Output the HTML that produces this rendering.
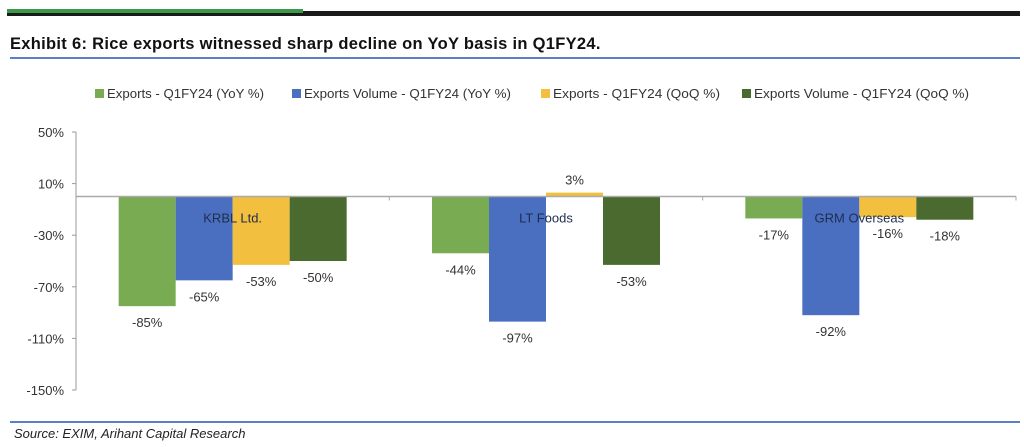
<!DOCTYPE html>
<html><head><meta charset="utf-8"><style>
body{margin:0;background:#fff;width:1024px;height:447px;overflow:hidden;font-family:"Liberation Sans",sans-serif;position:relative}
.abs{position:absolute}
</style></head><body>
<div class="abs" style="left:7px;top:11px;width:1013px;height:5px;background:#1a1a1a"></div>
<div class="abs" style="left:7px;top:9px;width:296px;height:4px;background:#3a9a4a"></div>
<div class="abs" style="left:10px;top:35px;font-size:16.5px;font-weight:bold;color:#111;letter-spacing:0.3px">Exhibit 6: Rice exports witnessed sharp decline on YoY basis in Q1FY24.</div>
<div class="abs" style="left:10px;top:57px;width:1010px;height:2px;background:#5a7fc8"></div>
<div class="abs" style="left:10px;top:421px;width:1010px;height:2px;background:#5a7fc8"></div>
<div class="abs" style="left:14px;top:426px;font-size:13px;font-style:italic;color:#222">Source: EXIM, Arihant Capital Research</div>
<svg class="abs" style="left:0;top:0" width="1024" height="447" id="chart"></svg>
<script>
const categories=["KRBL Ltd.","LT Foods","GRM Overseas"];
const seriesNames=["Exports - Q1FY24 (YoY %)","Exports Volume - Q1FY24 (YoY %)","Exports - Q1FY24 (QoQ %)","Exports Volume - Q1FY24 (QoQ %)"];
const exportsYoY=[-85,-44,-17];
const volumeYoY=[-65,-97,-92];
const exportsQoQ=[-53,3,-16];
const volumeQoQ=[-50,-53,-18];
const yTicks=[50,10,-30,-70,-110,-150];
const colors=["#78ab52","#4a6fc0","#f2bf3e","#4a6a30"];
const series=[exportsYoY,volumeYoY,exportsQoQ,volumeQoQ];
const svg=document.getElementById('chart');
const NS="http://www.w3.org/2000/svg";
const x0=76,x1=1016,yTop=132,yBot=390,vMax=50,vMin=-150;
const y=v=>yTop+(vMax-v)*(yBot-yTop)/(vMax-vMin);
const catW=(x1-x0)/categories.length, barW=57;
function mk(t,a){const e=document.createElementNS(NS,t);for(const k in a)e.setAttribute(k,a[k]);svg.appendChild(e);return e;}
function txt(s,xx,yy,anchor,size,fill){const e=mk('text',{x:xx,y:yy,'text-anchor':anchor,'font-size':size,fill:fill,'font-family':'Liberation Sans, sans-serif'});e.textContent=s;return e;}
const ax=mk('line',{x1:x0,y1:yTop,x2:x0,y2:yBot,stroke:'#999','stroke-width':1});

yTicks.forEach(v=>{
 const t=mk('line',{x1:x0-4,y1:y(v),x2:x0,y2:y(v),stroke:'#999'});
 
 const l=txt(v+'%',x0-12,y(v)+5,'end',13,'#333');
 
});
categories.forEach((c,i)=>{
 const gx=x0+catW*i+catW/2-2*barW;
 series.forEach((s,j)=>{
  const v=s[i],bx=gx+j*barW,top=Math.min(y(v),y(0)),h=Math.abs(y(v)-y(0));
  const r=mk('rect',{x:bx,y:top,width:barW,height:Math.max(h,1),fill:colors[j]});
  
  const ly=v>=0?y(v)-8:y(v)+21;
  const l=txt(v+'%',bx+barW/2,ly,'middle',13,'#333');
  
 });
});
const zl=mk('line',{x1:x0,y1:y(0),x2:x1,y2:y(0),stroke:'#aaa','stroke-width':1.5});

categories.forEach((c,i)=>{
 const cx=x0+catW*(i+1);
 const t=mk('line',{x1:cx,y1:y(0),x2:cx,y2:y(0)+4,stroke:'#aaa'});
 
 const l=txt(c,x0+catW*i+catW/2,y(0)+26,'middle',13,'#1f2d4d');
 
});
const legX=[95,292,541,742];
const legW=[157,207,167,215];
seriesNames.forEach((n,j)=>{
 const r=mk('rect',{x:legX[j],y:89,width:9,height:9,fill:colors[j]});
 
 const l=txt(n,legX[j]+12,98,'start',13,'#333');
 l.setAttribute('textLength',legW[j]);l.setAttribute('lengthAdjust','spacingAndGlyphs');
 
});
</script>
</body></html>
